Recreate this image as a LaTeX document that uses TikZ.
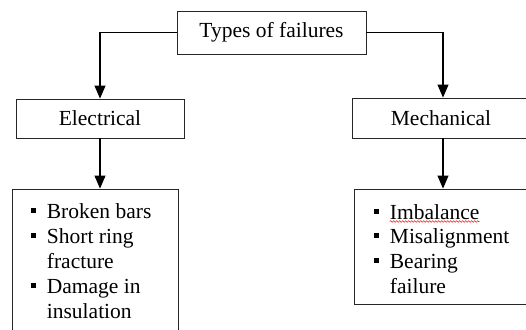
\documentclass[tikz,border=0pt]{standalone}
\usepackage{fontspec}
\setmainfont{Liberation Serif}
\usetikzlibrary{arrows.meta,decorations.pathmorphing}
\newcommand{\bulsq}{\makebox[15.7pt][l]{\rule[5.5pt]{5pt}{5pt}}}
\begin{document}
\begin{tikzpicture}[x=1pt,y=-1pt,
  box/.style={draw=black!85, line width=0.9pt, inner sep=0pt, font=\fontsize{21.5}{25}\selectfont},
  conn/.style={line width=1.1pt, -{Triangle[length=13pt,width=11pt]}},
  li/.style={anchor=base west, inner sep=0pt, font=\fontsize{21.5}{25}\selectfont}]
\useasboundingbox (0,0) rectangle (526,329);
\clip (0,0) rectangle (526,329);
\fill[white] (0,0) rectangle (526,329);
\node[box, minimum width=189pt, minimum height=43pt] (types) at (271.5,32.5) {Types of failures};
\node[box, minimum width=168pt, minimum height=39pt] (elec) at (100,118.5) {Electrical};
\node[box, minimum width=178pt, minimum height=40pt] (mech) at (441,118) {Mechanical};
\node[box, minimum width=166pt, minimum height=160pt] (elist) at (95,269) {};
\node[box, minimum width=176pt, minimum height=115pt] (mlist) at (442,246.5) {};
\draw[conn] (types.west) -| (elec.north);
\draw[conn] (types.east) -| ([xshift=2pt]mech.north);
\draw[conn] (elec.south) -- (elec.south |- elist.north);
\draw[conn] ([xshift=2pt]mech.south) -- ([xshift=2pt]mech.south |- mlist.north);
\node[li] (e1) at (31,218) {\bulsq Broken bars};
\node[li] (e2) at (31,243) {\bulsq Short ring};
\node[li] (e3) at (46.7,268) {fracture};
\node[li] (e4) at (31,293) {\bulsq Damage in};
\node[li] (e5) at (46.7,318) {insulation};
\node[li] (m1) at (374,219) {\bulsq Imbalance};
\node[li] (m2) at (374,243) {\bulsq Misalignment};
\node[li] (m3) at (374,268) {\bulsq Bearing};
\node[li] (m4) at (389.7,293) {failure};
\draw[red, line width=0.5pt, decorate, decoration={snake, amplitude=0.8pt, segment length=3pt}]
  ([xshift=15.7pt, yshift=-2.5pt]m1.base west) -- ([yshift=-2.5pt]m1.base east);
\end{tikzpicture}
\end{document}
